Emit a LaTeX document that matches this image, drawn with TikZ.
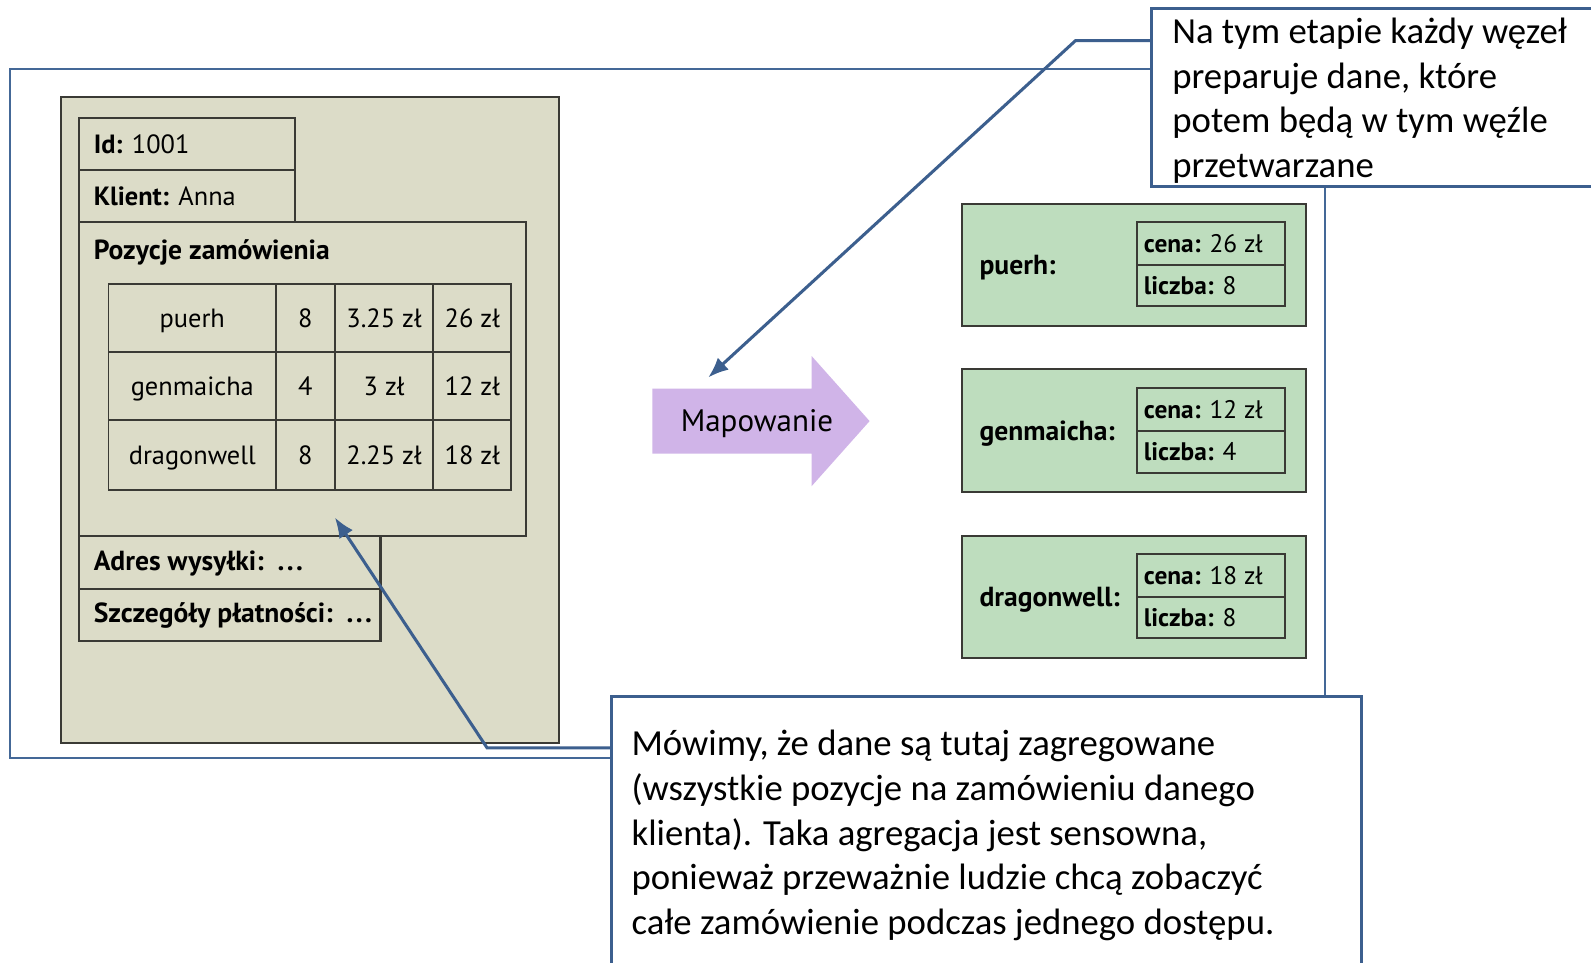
\documentclass[tikz,border=0pt]{standalone}
\usepackage{fontspec}
\setmainfont{PT Sans}
\newfontfamily\callfont{Carlito}
\usetikzlibrary{fit,arrows.meta}

\definecolor{frameblue}{HTML}{446897}
\definecolor{calloutblue}{HTML}{3C5F8E}
\definecolor{tanfill}{HTML}{DCDCC8}
\definecolor{boxline}{HTML}{3A3A35}
\definecolor{leaf}{HTML}{BEDDBE}
\definecolor{mauve}{HTML}{D0B4E8}

\newcommand{\dotsep}{\,.\kern1.2pt.\kern1.2pt.}

\tikzset{
  frame/.style={draw=frameblue, line width=1pt},
  tanbox/.style={draw=boxline, fill=tanfill, line width=1pt, inner sep=0pt},
  cellbox/.style={draw=boxline, line width=0.9pt, inner sep=0pt},
  celltxt/.style={anchor=base, inner sep=0pt, font=\fontsize{13}{15}\selectfont},
  greenbox/.style={draw=boxline, fill=leaf, line width=1pt, inner sep=0pt},
  lbl/.style={anchor=west, inner sep=0pt, font=\fontsize{13}{15}\selectfont},
  keylbl/.style={anchor=west, inner sep=0pt, font=\bfseries\fontsize{13.6}{16}\selectfont},
  fieldlbl/.style={anchor=west, inner sep=0pt, font=\fontsize{12.5}{15}\selectfont},
  callout/.style={draw=calloutblue, fill=white, line width=1.5pt, inner sep=0pt},
  calltext/.style={anchor=base west, inner sep=0pt,
    font=\callfont\fontsize{18.1}{22}\selectfont},
  leader/.style={draw=calloutblue, line width=1.5pt, -{Latex[length=10pt,width=8pt]}},
}

\begin{document}
\begin{tikzpicture}[x=0.5pt, y=-0.5pt]
\clip (0,0) rectangle (1568,949);
\fill[white] (0,0) rectangle (1568,949);

% outer frame around the whole mapping step
\draw[frame] (10,68) rectangle (1306,747);

% ---- order document ----
\node[tanbox, fit={(60,96)(551,732)}] (order) {};
\node[tanbox, fit={(78,116)(291,168)}] (idbox) {};
\node[tanbox, fit={(78,168)(291,219)}] (clientbox) {};
\node[tanbox, fit={(78,219)(518,528)}] (itemsbox) {};
\node[tanbox, fit={(78,528)(375,580)}] (addrbox) {};
\node[tanbox, fit={(78,580)(375,632)}] (paybox) {};

\node[lbl] (idtxt) at (92,142) {\textbf{Id:} 1001};
\node[lbl] (clienttxt) at (92,193) {\textbf{Klient:} Anna};
\node[keylbl] (itemstxt) at (92,249) {Pozycje zamówienia};
\node[keylbl] (addrtxt) at (92,555) {Adres wysyłki: \dotsep};
\node[keylbl] (paytxt) at (92,607) {Szczegóły płatności: \dotsep};

% order lines table
\foreach \r/\ya/\yb/\tea/\qty/\price/\total in {
    1/280/347/puerh/8/3.25 zł/26 zł,
    2/347/414/genmaicha/4/3 zł/12 zł,
    3/414/483/dragonwell/8/2.25 zł/18 zł} {
  \node[cellbox, fit={(107,\ya)(272,\yb)}] (c\r a) {};
  \node[cellbox, fit={(272,\ya)(330,\yb)}] (c\r b) {};
  \node[cellbox, fit={(330,\ya)(427,\yb)}] (c\r c) {};
  \node[cellbox, fit={(427,\ya)(504,\yb)}] (c\r d) {};
  \node[celltxt] at ([yshift=-4.6pt]c\r a.center) {\tea};
  \node[celltxt] at ([yshift=-4.6pt]c\r b.center) {\qty};
  \node[celltxt] at ([yshift=-4.6pt]c\r c.center) {\price};
  \node[celltxt] at ([yshift=-4.6pt]c\r d.center) {\total};
}

% ---- mapping arrow ----
\fill[mauve] (643,383) -- (800,383) -- (800,351) -- (857,415)
  -- (800,479) -- (800,447) -- (643,447) -- cycle;
\node[anchor=base, inner sep=0pt, font=\fontsize{15.3}{18}\selectfont] (map) at (746,425) {Mapowanie};

% ---- mapped records ----
\foreach \k/\ya/\yb/\tea/\cost/\qty in {
    1/201/321/puerh/26/8,
    2/364/485/genmaicha/12/4,
    3/528/648/dragonwell/18/8} {
  \node[greenbox, fit={(948,\ya)(1287,\yb)}] (rec\k) {};
  \node[keylbl] (key\k) at (965,{(\ya+\yb)/2+3}) {\tea:};
  \node[greenbox, fit={(1121,\ya+18)(1266,{(\ya+\yb)/2})}] (cost\k) {};
  \node[greenbox, fit={(1121,{(\ya+\yb)/2})(1266,\yb-19)}] (qty\k) {};
  \node[fieldlbl] at ([xshift=3.5pt]cost\k.west) {\textbf{cena:} \cost{} zł};
  \node[fieldlbl] at ([xshift=3.5pt]qty\k.west) {\textbf{liczba:} \qty};
}

% ---- leaders ----
\coordinate (bendA) at (1060,40);
\coordinate (tipA) at (698,372);
\coordinate (bendB) at (480,737);
\coordinate (tipB) at (330,510);

\node[callout, fit={(1135,8)(1620,184)}] (noteA) {};
\node[callout, fit={(603,686)(1342,1010)}] (noteB) {};

\draw[leader] (noteA.north west |- bendA) -- (bendA) -- (tipA);
\draw[leader] (noteB.north west |- bendB) -- (bendB) -- (tipB);

\node[calltext] (noteAtxt) at (1155,43)
  {\vtop{\hbox{Na tym etapie każdy węzeł}\hbox{preparuje dane, które}%
         \hbox{potem będą w tym węźle}\hbox{przetwarzane}}};
\node[calltext] (noteBtxt) at (622,745)
  {\vtop{\hbox{Mówimy, że dane są tutaj zagregowane}%
         \hbox{(wszystkie pozycje na zamówieniu danego}%
         \hbox{klienta). Taka agregacja jest sensowna,}%
         \hbox{ponieważ przeważnie ludzie chcą zobaczyć}%
         \hbox{całe zamówienie podczas jednego dostępu.}}};
\end{tikzpicture}
\end{document}
